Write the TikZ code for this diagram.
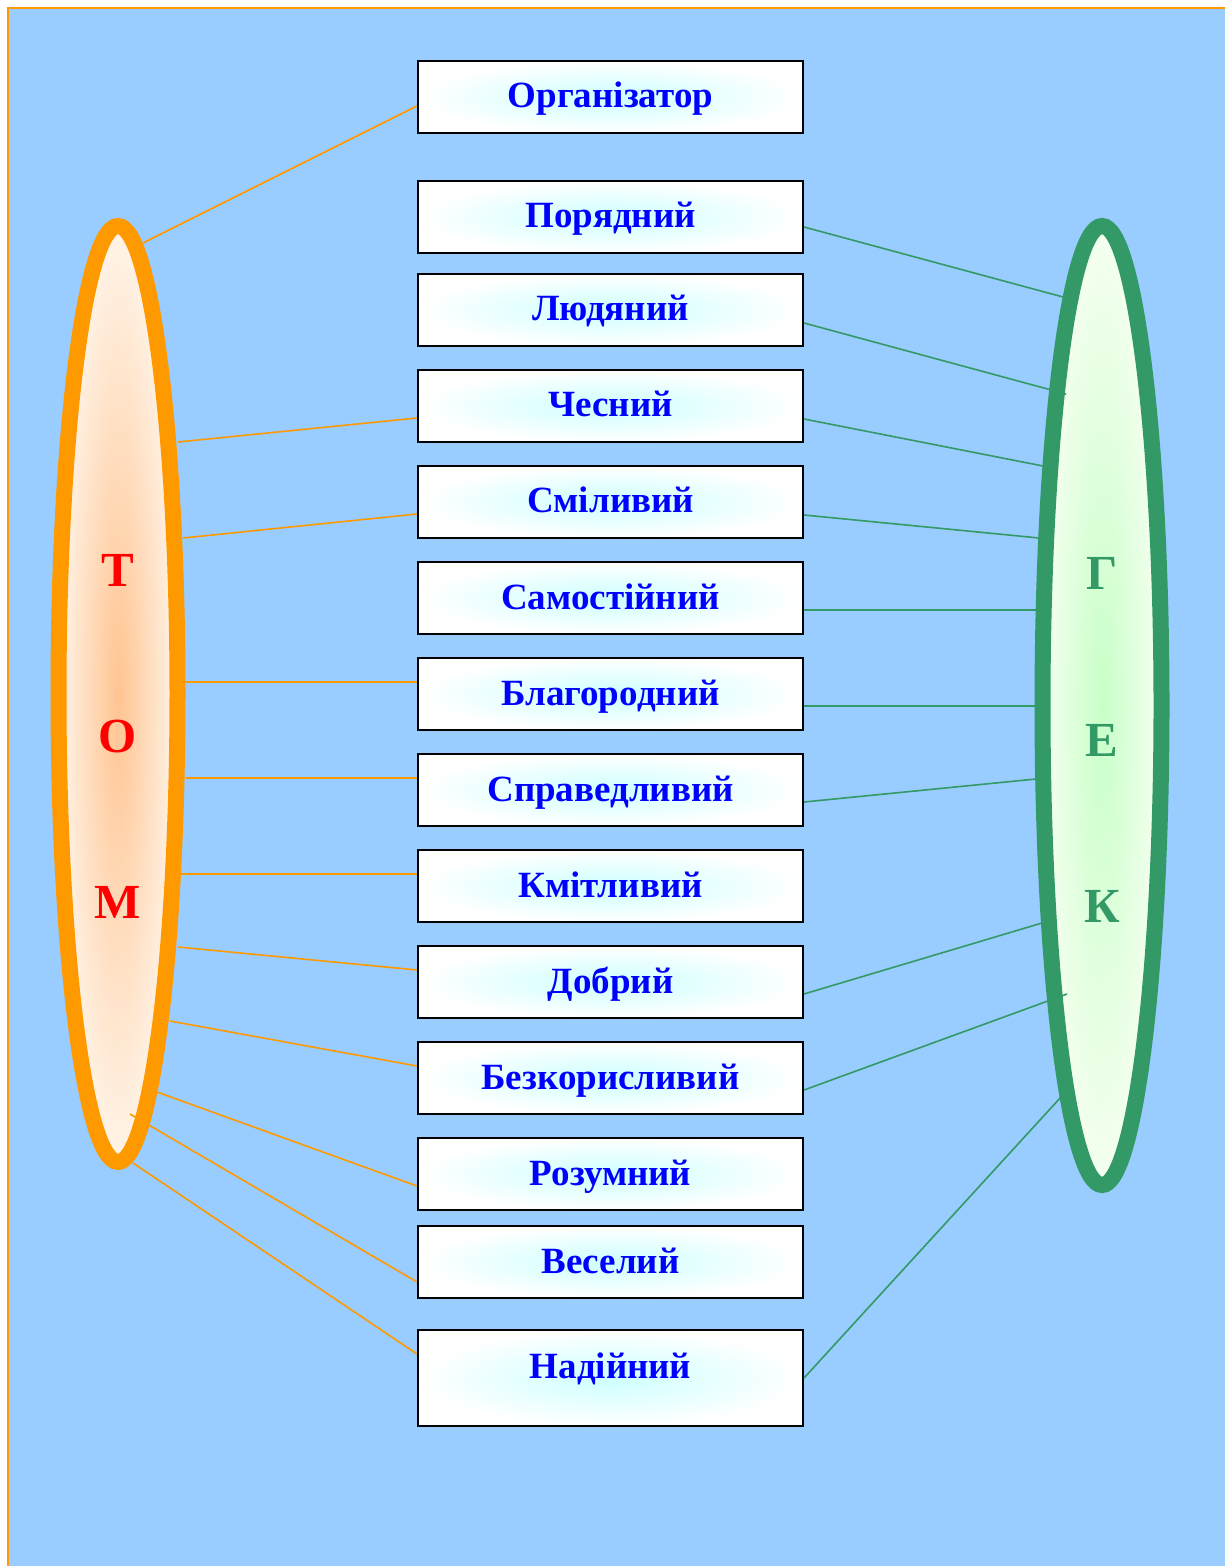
\documentclass[tikz,border=0pt]{standalone}
\usepackage{fontspec}
\setmainfont{Liberation Serif}
\usetikzlibrary{shapes.geometric, calc}

\definecolor{skyback}{RGB}{153, 204, 255}
\definecolor{tomorange}{RGB}{255, 153, 0}
\definecolor{gekgreen}{RGB}{51, 153, 102}
\definecolor{wordblue}{RGB}{0, 0, 255}
\definecolor{boxglow}{RGB}{205, 255, 255}
\definecolor{tomcore}{RGB}{255, 196, 145}
\definecolor{tomrim}{RGB}{255, 244, 232}
\definecolor{gekcore}{RGB}{200, 255, 200}
\definecolor{gekrim}{RGB}{245, 255, 240}

\tikzset{
  wordbox/.style={draw=black, line width=1pt, shade, inner color=boxglow, outer color=white,
    minimum width=192.5pt, minimum height=36pt, inner sep=0pt, text height=13.5pt, text depth=2.5pt,
    font=\fontsize{18.5}{22}\selectfont\bfseries, text=wordblue},
  hero/.style={ellipse, inner sep=0pt, line width=8pt, minimum width=59.5pt},
  herolabel/.style={font=\fontsize{24.5}{28}\selectfont\bfseries},
  tomline/.style={draw=tomorange, line width=0.8pt},
  gekline/.style={draw=gekgreen, line width=0.8pt}
}

\begin{document}
\begin{tikzpicture}[x=0.5pt, y=-0.5pt]
  \useasboundingbox (0,0) rectangle (1225,1566);
  % Background
  \fill[skyback] (8,8) rectangle (1225,1566);
  \draw[tomorange, line width=1pt] (8,1566) -- (8,8) -- (1225,8);

  % Heroes
  \node[hero, draw=tomorange, shade, inner color=tomcore, outer color=tomrim, minimum height=468pt] (tom) at (118,694) {};
  \node[hero, draw=gekgreen, shade, inner color=gekcore, outer color=gekrim, minimum height=479.5pt] (gek) at (1102,705.5) {};

  \node[herolabel, text=red] (tomT) at (118,570) {Т};
  \node[herolabel, text=red] (tomO) at (118,737) {О};
  \node[herolabel, text=red] (tomM) at (118,902) {М};
  \node[herolabel, text=gekgreen] (gekG) at (1102,573) {Г};
  \node[herolabel, text=gekgreen] (gekE) at (1102,740) {Е};
  \node[herolabel, text=gekgreen] (gekK) at (1102,906) {К};

  % Qualities
  \node[wordbox] (org) at (610.5,97) {Організатор};
  \node[wordbox] (por) at (610.5,217) {Порядний};
  \node[wordbox] (lud) at (610.5,310) {Людяний};
  \node[wordbox] (ches) at (610.5,406) {Чесний};
  \node[wordbox] (smil) at (610.5,502) {Сміливий};
  \node[wordbox] (samo) at (610.5,598) {Самостійний};
  \node[wordbox] (blag) at (610.5,694) {Благородний};
  \node[wordbox] (sprav) at (610.5,790) {Справедливий};
  \node[wordbox] (kmit) at (610.5,886) {Кмітливий};
  \node[wordbox] (dob) at (610.5,982) {Добрий};
  \node[wordbox] (bezk) at (610.5,1078) {Безкорисливий};
  \node[wordbox] (rozu) at (610.5,1174) {Розумний};
  \node[wordbox] (vese) at (610.5,1262) {Веселий};
  \node[wordbox, minimum height=48pt, text depth=13.5pt] (nadi) at (610.5,1378) {Надійний};

  % Tom side
  \coordinate (t1) at (143,243);
  \coordinate (t2) at (178,442);
  \coordinate (t3) at (183,538);
  \coordinate (t4) at (186,682);
  \coordinate (t5) at (186,778);
  \coordinate (t6) at (180,874);
  \coordinate (t7) at (178,947);
  \coordinate (t8) at (170,1021);
  \coordinate (t9) at (157,1092);
  \coordinate (t10) at (130,1114);
  \coordinate (t11) at (133,1163);
  \draw[tomline] (t1) -- ([yshift=-4.5pt]org.west);
  \draw[tomline] (t2) -- ([yshift=-6pt]ches.west);
  \draw[tomline] (t3) -- ([yshift=-6pt]smil.west);
  \draw[tomline] (t4) -- ([yshift=6pt]blag.west);
  \draw[tomline] (t5) -- ([yshift=6pt]sprav.west);
  \draw[tomline] (t6) -- ([yshift=6pt]kmit.west);
  \draw[tomline] (t7) -- ([yshift=6pt]dob.west);
  \draw[tomline] (t8) -- ([yshift=6pt]bezk.west);
  \draw[tomline] (t9) -- ([yshift=-6pt]rozu.west);
  \draw[tomline] (t10) -- ([yshift=-10pt]vese.west);
  \draw[tomline] (t11) -- ([yshift=12pt]nadi.west);

  % Gek side
  \coordinate (g1) at (1063,297);
  \coordinate (g2) at (1066,394);
  \coordinate (g3) at (1043,466);
  \coordinate (g4) at (1039,538);
  \coordinate (g5) at (1036,610);
  \coordinate (g6) at (1036,706);
  \coordinate (g7) at (1036,779);
  \coordinate (g8) at (1042,923);
  \coordinate (g9) at (1067,994);
  \coordinate (g10) at (1061,1097);
  \draw[gekline] ([yshift=-5pt]por.east) -- (g1);
  \draw[gekline] ([yshift=-6.5pt]lud.east) -- (g2);
  \draw[gekline] ([yshift=-6.5pt]ches.east) -- (g3);
  \draw[gekline] ([yshift=-6.5pt]smil.east) -- (g4);
  \draw[gekline] ([yshift=-6pt]samo.east) -- (g5);
  \draw[gekline] ([yshift=-6pt]blag.east) -- (g6);
  \draw[gekline] ([yshift=-6pt]sprav.east) -- (g7);
  \draw[gekline] ([yshift=-6pt]dob.east) -- (g8);
  \draw[gekline] ([yshift=-6pt]bezk.east) -- (g9);
  \draw[gekline] (nadi.east) -- (g10);
\end{tikzpicture}
\end{document}
